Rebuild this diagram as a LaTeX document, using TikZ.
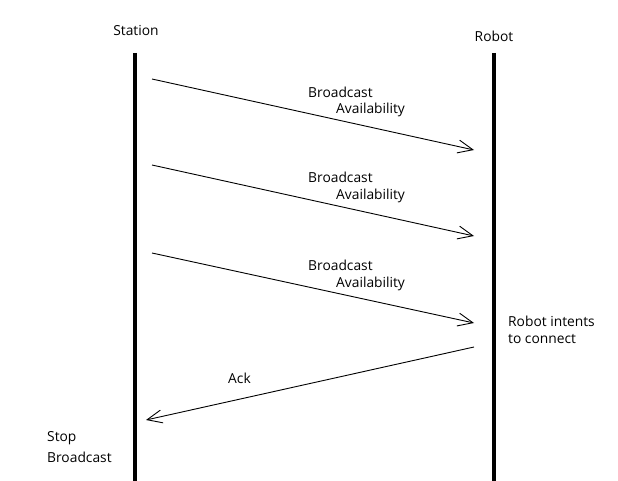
\documentclass[tikz,border=0pt]{standalone}
\usepackage{fontspec}
\setmainfont{Open Sans}
\usetikzlibrary{arrows.meta}
\begin{document}
\begin{tikzpicture}[x=1pt,y=-1pt,
  lifeline/.style={line width=4pt},
  msg/.style={line width=0.9pt,-{Straight Barb[length=15pt,width=13pt,line width=0.9pt]}},
  lbl/.style={font=\fontsize{13.8}{16}\selectfont,inner sep=0pt,anchor=west},
  hdr/.style={font=\fontsize{13.8}{16}\selectfont,inner sep=0pt}]
\useasboundingbox (0,0) rectangle (618,481);
% lifelines
\coordinate (s0) at (135,53); \coordinate (s1) at (135,481);
\coordinate (r0) at (494,53); \coordinate (r1) at (494,481);
\draw[lifeline] (s0) -- (s1);
\draw[lifeline] (r0) -- (r1);
\node[hdr] (station) at (136,31) {Station};
\node[hdr] (robot) at (494,36) {Robot};
% messages
\coordinate (a1) at (152,79); \coordinate (b1) at (474,150);
\coordinate (a2) at (152,165); \coordinate (b2) at (474,236);
\coordinate (a3) at (152,253); \coordinate (b3) at (474,323);
\coordinate (a4) at (474,347); \coordinate (b4) at (146,420);
\draw[msg] (a1) -- (b1);
\draw[msg] (a2) -- (b2);
\draw[msg] (a3) -- (b3);
\draw[msg] (a4) -- (b4);
\node[lbl] (l1a) at (308,92) {Broadcast};
\node[lbl] (l1b) at (336,110) {Availability};
\node[lbl] (l2a) at (308,177) {Broadcast};
\node[lbl] (l2b) at (336,196) {Availability};
\node[lbl] (l3a) at (308,265) {Broadcast};
\node[lbl] (l3b) at (336,284) {Availability};
\node[lbl] (ri1) at (508,321) {Robot intents};
\node[lbl] (ri2) at (508,339) {to connect};
\node[lbl] (ack) at (228,378) {Ack};
\node[lbl] (st1) at (47,438) {Stop};
\node[lbl] (st2) at (47,457) {Broadcast};
\end{tikzpicture}
\end{document}
